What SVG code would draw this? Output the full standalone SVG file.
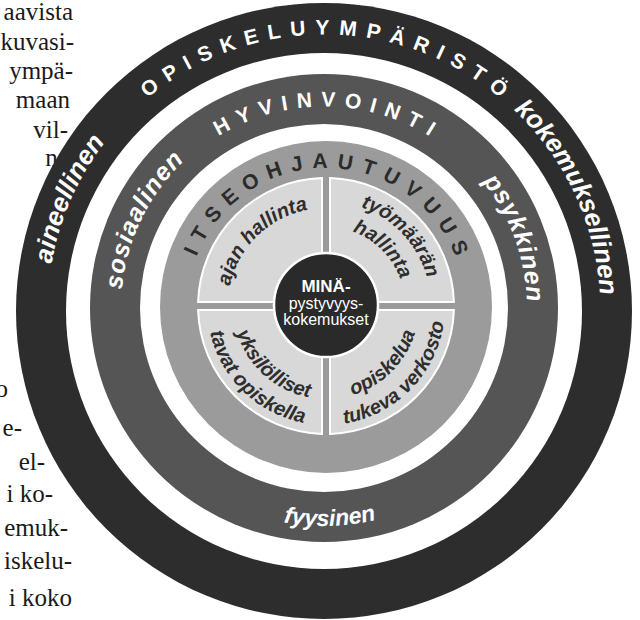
<svg xmlns="http://www.w3.org/2000/svg" xmlns:xlink="http://www.w3.org/1999/xlink" width="640" height="620" viewBox="0 0 640 620">
<style>
.sans{font-family:"Liberation Sans",Arial,sans-serif;font-weight:bold}
.caps{font-size:21px;fill:#fff}
.side{font-style:italic;fill:#fff}
.self{font-size:21px;fill:#2b2b2b}
.q{font-size:20px;font-style:italic;fill:#2e2e2e}
.body{font-family:"Liberation Serif","Times New Roman",serif;font-size:25px;fill:#1a1a1a;text-anchor:end}
.quad{fill:#d8d8d8;stroke:#fff;stroke-width:2}
.gap{fill:#fff}
</style>
<defs>
<path id="pOut" d="M324,587.5 A276.5,276.5 0 0 1 324,34.5 A276.5,276.5 0 0 1 324,587.5"/>
<path id="pWellCaps" d="M324,509.5 A201.5,201.5 0 0 1 324,106.5 A201.5,201.5 0 0 1 324,509.5"/>
<path id="pWellSide" d="M324,511 A203,203 0 0 1 324,105 A203,203 0 0 1 324,511"/>
<path id="pWellBottom" d="M324,90 A218,218 0 0 0 324,526 A218,218 0 0 0 324,90"/>
<path id="pSelf" d="M326,446 A139,139 0 0 1 326,168 A139,139 0 0 1 326,446"/>
<path id="pQ98" d="M326,404 A98,98 0 0 1 326,208 A98,98 0 0 1 326,404"/>
<path id="pQ105" d="M326,411 A105,105 0 0 1 326,201 A105,105 0 0 1 326,411"/>
<path id="pQ79" d="M326,385 A79,79 0 0 1 326,227 A79,79 0 0 1 326,385"/>
<path id="pQ93" d="M326,213 A93,93 0 0 0 326,399 A93,93 0 0 0 326,213"/>
<path id="pQ119" d="M326,187 A119,119 0 0 0 326,425 A119,119 0 0 0 326,187"/>
</defs>
<rect width="640" height="620" fill="#fff"/>

<g id="text-left" class="body">
<text x="73" y="20">aavista</text>
<text x="74" y="50">kuvasi-</text>
<text x="73" y="79">ympä-</text>
<text x="70" y="108">maan</text>
<text x="68" y="138">vil-</text>
<text x="66" y="166">n-</text>
<text x="56" y="195">-</text>
<text x="8" y="397">o</text>
<text x="22" y="436">e-</text>
<text x="45" y="470">el-</text>
<text x="53" y="502">i ko-</text>
<text x="68" y="536">emuk-</text>
<text x="72" y="569">iskelu-</text>
<text x="72" y="606">i koko</text>
</g>

<g id="ring-shapes">
<circle cx="324" cy="311" r="308" fill="#2d2d2d"/>
<circle class="gap" cx="324" cy="311" r="258"/>
<circle cx="324" cy="308" r="234" fill="#555555"/>
<circle class="gap" cx="324" cy="308" r="184"/>
<circle cx="326" cy="307" r="166" fill="#9b9b9b"/>
</g>

<g id="ring-opiskeluymparisto">
<text class="sans caps" letter-spacing="9.4" text-anchor="middle"><textPath xlink:href="#pOut" href="#pOut" startOffset="50.27%">OPISKELUYMPÄRISTÖ</textPath></text>
<text class="sans side" font-size="26" text-anchor="middle"><textPath xlink:href="#pOut" href="#pOut" startOffset="68.06%">kokemuksellinen</textPath></text>
<text class="sans side" font-size="26" text-anchor="middle"><textPath xlink:href="#pOut" href="#pOut" startOffset="31.6%">aineellinen</textPath></text>
</g>

<g id="ring-hyvinvointi">
<text class="sans caps" letter-spacing="8.8" text-anchor="middle"><textPath xlink:href="#pWellCaps" href="#pWellCaps" startOffset="50.35%">HYVINVOINTI</textPath></text>
<text class="sans side" font-size="25" letter-spacing="1" text-anchor="middle"><textPath xlink:href="#pWellSide" href="#pWellSide" startOffset="32.22%">sosiaalinen</textPath></text>
<text class="sans side" font-size="25" letter-spacing="1" text-anchor="middle"><textPath xlink:href="#pWellSide" href="#pWellSide" startOffset="69.44%">psykkinen</textPath></text>
<text class="sans side" font-size="23" text-anchor="middle"><textPath xlink:href="#pWellBottom" href="#pWellBottom" startOffset="50.44%">fyysinen</textPath></text>
</g>

<g id="ring-itseohjautuvuus">
<text class="sans self" letter-spacing="9.07" text-anchor="middle"><textPath xlink:href="#pSelf" href="#pSelf" startOffset="50.52%">ITSEOHJAUTUVUUS</textPath></text>
</g>

<g id="q-ajan-hallinta">
<path class="quad" d="M322,302 L198.1,302 A128,128 0 0 1 322,178.1 Z"/>
<text class="sans q" text-anchor="middle"><textPath xlink:href="#pQ98" href="#pQ98" startOffset="37.64%">ajan hallinta</textPath></text>
</g>
<g id="q-tyomaaran-hallinta">
<path class="quad" d="M330,302 L330,178.1 A128,128 0 0 1 453.9,302 Z"/>
<text class="sans q" text-anchor="middle"><textPath xlink:href="#pQ105" href="#pQ105" startOffset="63.06%">työmäärän</textPath></text>
<text class="sans q" text-anchor="middle"><textPath xlink:href="#pQ79" href="#pQ79" startOffset="62.5%">hallinta</textPath></text>
</g>
<g id="q-yksilolliset">
<path class="quad" d="M322,310 L322,433.9 A128,128 0 0 1 198.1,310 Z"/>
<text class="sans q" text-anchor="middle"><textPath xlink:href="#pQ93" href="#pQ93" startOffset="38.33%">yksilölliset</textPath></text>
<text class="sans q" text-anchor="middle"><textPath xlink:href="#pQ119" href="#pQ119" startOffset="37.78%">tavat opiskella</textPath></text>
</g>
<g id="q-verkosto">
<path class="quad" d="M330,310 L453.9,310 A128,128 0 0 1 330,433.9 Z"/>
<text class="sans q" text-anchor="middle"><textPath xlink:href="#pQ93" href="#pQ93" startOffset="62.5%">opiskelua</textPath></text>
<text class="sans q" text-anchor="middle"><textPath xlink:href="#pQ119" href="#pQ119" startOffset="62.64%">tukeva verkosto</textPath></text>
</g>

<g id="center-mina">
<circle cx="326" cy="305" r="52" fill="#2a2a2a" stroke="#fff" stroke-width="2.5"/>
<text x="326" y="292" font-family="Liberation Sans,Arial,sans-serif" font-weight="bold" font-size="17" fill="#fff" text-anchor="middle">MINÄ-</text>
<text x="326" y="309" font-family="Liberation Sans,Arial,sans-serif" font-size="16" fill="#fff" text-anchor="middle">pystyvyys-</text>
<text x="326" y="325" font-family="Liberation Sans,Arial,sans-serif" font-size="16" fill="#fff" text-anchor="middle">kokemukset</text>
</g>

<g id="connectors"/>
</svg>
